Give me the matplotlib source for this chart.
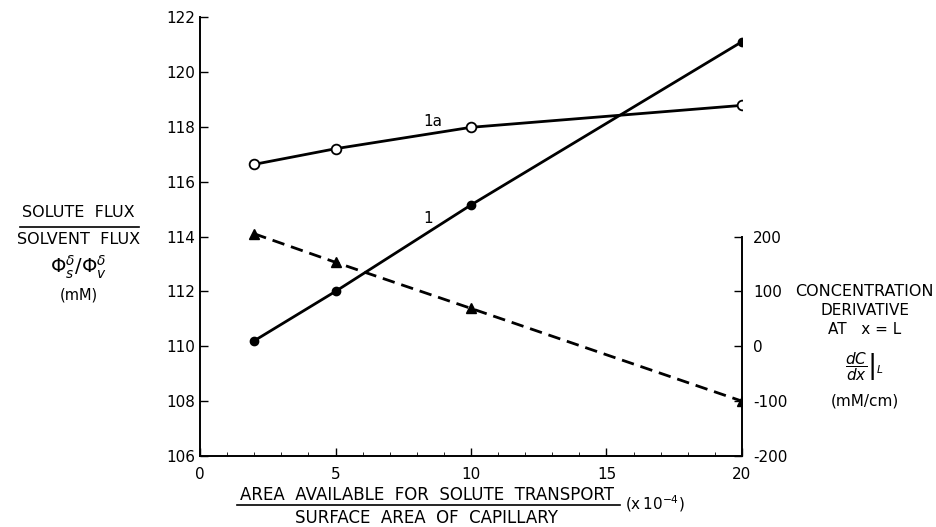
import matplotlib.pyplot as plt
from matplotlib.lines import Line2D
from matplotlib.ticker import MultipleLocator

plt.rcParams['axes.unicode_minus'] = False

# area ratio (x 10^-4)
area_ratio = [2, 5, 10, 20]

# solute flux / solvent flux (mM), left axis
flux_1 = [110.2, 112.0, 115.15, 121.1]
flux_1a = [116.63, 117.2, 117.98, 118.78]

# concentration derivative at x = L (mM/cm), right axis
deriv = [205, 153, 69, -100]

left_ticks = [106, 108, 110, 112, 114, 116, 118, 120, 122]
right_ticks = [-200, -100, 0, 100, 200]
x_ticks = [0, 5, 10, 15, 20]

fig = plt.figure(figsize=(9.36, 5.27), dpi=100)
ax = fig.add_axes([0.2137, 0.1347, 0.5790, 0.8330])

ax.plot(area_ratio, flux_1, color='black', lw=2, marker='o', ms=6,
        mfc='black', mec='black')
ax.plot(area_ratio, flux_1a, color='black', lw=2, marker='o', ms=7,
        mfc='white', mec='black', mew=1.3)

ax.set_xlim(0, 20)
ax.set_ylim(106, 122)
ax.set_xticks(x_ticks)
ax.set_yticks(left_ticks)
ax.xaxis.set_minor_locator(MultipleLocator(1))
ax.tick_params(axis='both', direction='in', labelsize=11, width=1, length=6)
ax.tick_params(axis='x', which='minor', direction='in', length=3)
ax.tick_params(axis='x', pad=8)
ax.spines['top'].set_visible(False)
ax.spines['right'].set_visible(False)
for s in ['left', 'bottom']:
    ax.spines[s].set_linewidth(1.4)

ax.text(8.6, 118.2, '1a', fontsize=11, ha='center', va='center')
ax.text(8.4, 114.67, '1', fontsize=11, ha='center', va='center')

# right axis: -200..200 occupies lower part of the frame
ax2 = ax.twinx()
ax2.plot(area_ratio, deriv, color='black', lw=2, ls=(0, (4.5, 2.5)),
         marker='^', ms=7, mfc='black', mec='black')
ax2.set_ylim(-200, 600)
ax2.set_yticks(right_ticks)
ax2.spines['right'].set_bounds(-200, 200)
ax2.spines['right'].set_linewidth(1.4)
for s in ['top', 'left', 'bottom']:
    ax2.spines[s].set_visible(False)
ax2.tick_params(axis='y', direction='in', labelsize=11, width=1, length=6, pad=8)

# left axis label block
lx = 0.084
fig.text(lx, 0.596, 'SOLUTE  FLUX', ha='center', va='center', fontsize=11.5)
fig.add_artist(Line2D([0.021, 0.148], [0.570, 0.570], color='black', lw=1.2))
fig.text(lx, 0.545, 'SOLVENT  FLUX', ha='center', va='center', fontsize=11.5)
fig.text(lx, 0.492, r'$\Phi_s^\delta/\Phi_v^\delta$', ha='center', va='center',
         fontsize=14)
fig.text(lx, 0.441, '(mM)', ha='center', va='center', fontsize=10.5)

# right axis label block
rx = 0.924
fig.text(rx, 0.446, 'CONCENTRATION', ha='center', va='center', fontsize=11.5)
fig.text(rx, 0.410, 'DERIVATIVE', ha='center', va='center', fontsize=11)
fig.text(rx, 0.374, 'AT   x = L', ha='center', va='center', fontsize=11)
fig.text(rx, 0.305, r'$\left.\dfrac{dC}{dx}\right|_L$', ha='center', va='center',
         fontsize=11)
fig.text(rx, 0.239, '(mM/cm)', ha='center', va='center', fontsize=11)

# x axis label
fig.text(0.456, 0.061, 'AREA  AVAILABLE  FOR  SOLUTE  TRANSPORT', ha='center',
         va='center', fontsize=12)
fig.add_artist(Line2D([0.253, 0.662], [0.042, 0.042], color='black', lw=1.2))
fig.text(0.456, 0.017, 'SURFACE  AREA  OF  CAPILLARY', ha='center', va='center',
         fontsize=12)
fig.text(0.668, 0.044, r'(x$\,$10$^{-4}$)', ha='left', va='center', fontsize=11)

fig.savefig('out.png', dpi=100)
